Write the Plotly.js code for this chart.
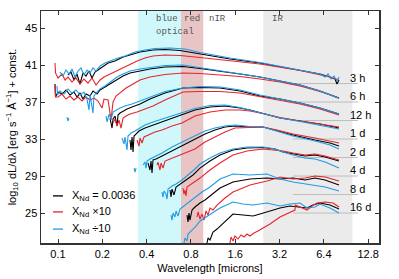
<!DOCTYPE html>
<html><head><meta charset="utf-8">
<script src="https://cdn.plot.ly/plotly-3.0.1.min.js"></script>
<style>html,body{margin:0;padding:0;background:#fff}#chart{width:399px;height:279px}</style>
</head><body><div id="chart"></div>
<script>
const epochs = ['3 h','6 h','12 h','1 d','2 d','4 d','8 d','16 d'];
const offsets = [39,37,35,33,31,29,27,25];
const seriesNames = ['X<sub>Nd</sub> = 0.0036','X<sub>Nd</sub> ×10','X<sub>Nd</sub> ÷10'];
const bandRanges = [[0.35,0.685],[0.685,0.97],[2.48,10]];
const xTicks = [0.1,0.2,0.4,0.8,1.6,3.2,6.4,12.8];
const yTicks = [25,29,33,37,41,45];
const refLineRange = [3.95,10.9];

// ---- 3 h ----
const wl_3h_base = [0.1169,0.1225,0.1284,0.1346,0.141,0.1478,0.1549,0.1624,0.1702,0.1784,0.187,0.2023,0.2188,0.244,0.2766,0.3085,0.3607,0.4421,0.5332,0.6742,0.9219,1.474,2.357,4.406,6.025,7.045,7.62,7.86,8.11];
const lum_3h_base = [39.92,40.24,39.38,40.03,38.95,40.14,39.81,40.35,39.60,40.24,40.46,40.89,41.22,41.43,41.86,42.08,42.41,42.62,42.68,42.57,42.19,41.65,41.22,40.46,40.03,39.70,39.49,38.95,39.38];
const wl_3h_x10 = [0.0954,0.0962,0.100,0.1065,0.1116,0.1169,0.1245,0.1325,0.141,0.1501,0.1599,0.1702,0.1813,0.193,0.2055,0.2188,0.244,0.2766,0.3085,0.3443,0.39,0.4421,0.5332,0.6742,0.9219,1.474,2.357,4.406,7.045,8.11];
const lum_3h_x10 = [41.22,40.14,39.60,40.03,39.38,39.70,39.16,39.60,38.95,39.49,39.05,39.60,38.84,39.38,39.70,39.92,40.24,40.68,41.11,41.43,41.76,41.97,42.08,42.03,41.81,41.43,41.11,40.41,39.70,39.38];
const wl_3h_d10 = [0.1032,0.1082,0.1134,0.1188,0.1245,0.1305,0.1367,0.1433,0.1501,0.1574,0.165,0.1729,0.1813,0.193,0.2086,0.2256,0.2558,0.2853,0.3336,0.39,0.456,0.5766,0.729,0.9219,1.474,2.357,4.406,6.025,6.52,6.83,7.16,7.5,7.86,8.11];
const lum_3h_d10 = [40.24,39.81,40.46,40.03,40.57,39.70,40.35,40.68,39.92,40.46,40.14,40.68,40.35,40.89,41.22,41.43,41.76,41.97,42.41,42.62,42.78,42.84,42.73,42.35,41.76,41.27,40.46,40.03,39.70,40.03,39.49,39.81,39.27,39.70];
// ---- 6 h ----
const wl_6h_base = [0.0954,0.0962,0.100,0.1065,0.1134,0.1206,0.1284,0.1346,0.141,0.1478,0.1549,0.165,0.1729,0.1841,0.193,0.2086,0.2256,0.2518,0.2766,0.3085,0.3607,0.4217,0.5332,0.7065,0.9219,1.26,1.723,2.357,3.222,4.406,6.025,8.11];
const lum_6h_base = [38.95,37.54,38.08,37.86,38.30,37.76,38.08,37.54,37.97,37.32,37.86,37.65,38.19,37.86,38.30,38.62,38.95,39.49,39.81,40.14,40.35,40.57,40.78,40.84,40.62,40.35,40.03,39.70,39.27,38.84,38.19,37.43];
const wl_6h_x10 = [0.0954,0.0962,0.100,0.1065,0.1134,0.1206,0.1284,0.1367,0.1455,0.1549,0.165,0.1756,0.187,0.1991,0.2055,0.2188,0.2292,0.2365,0.2479,0.2638,0.2898,0.3234,0.3607,0.4217,0.5332,0.7065,0.9219,1.26,1.723,2.357,3.222,4.406,6.025,8.11];
const lum_6h_x10 = [38.84,37.54,37.54,37.86,37.32,37.65,37.22,37.54,37.11,37.54,37.22,37.43,37.11,36.35,37.32,37.22,35.05,37.00,37.65,37.97,38.51,38.95,39.38,39.70,39.97,40.14,40.08,39.92,39.76,39.49,39.16,38.73,38.13,37.43];
const wl_6h_d10 = [0.0985,0.0992,0.1032,0.1099,0.1169,0.1245,0.1325,0.141,0.1501,0.1574,0.1624,0.165,0.1729,0.1756,0.1841,0.193,0.2086,0.2256,0.2518,0.2766,0.3085,0.3607,0.4217,0.5332,0.7065,0.9219,1.26,1.723,2.357,3.222,4.406,6.025,8.11];
const lum_6h_d10 = [38.73,37.76,38.19,37.86,38.41,37.97,38.30,37.76,38.08,37.32,36.14,37.76,35.81,37.65,38.08,38.41,38.73,39.16,39.70,40.03,40.35,40.57,40.73,40.95,41.00,40.73,40.41,40.08,39.70,39.27,38.84,38.19,37.38];
// ---- 12 h ----
const wl_12h_base = [0.2256,0.2328,0.2365,0.244,0.2518,0.2558,0.2638,0.2766,0.2944,0.3184,0.3607,0.4217,0.5332,0.7065,0.9219,1.26,1.723,2.357,3.222,4.406,6.025,8.11];
const lum_12h_base = [35.27,34.19,35.16,35.49,34.41,35.59,35.81,36.03,36.24,36.46,36.78,37.32,37.97,38.51,38.57,38.51,38.19,37.65,37.32,36.89,36.35,35.70];
const wl_12h_x10 = [0.2365,0.244,0.2518,0.2598,0.268,0.2766,0.2898,0.3085,0.3443,0.39,0.4421,0.5332,0.7065,0.9219,1.26,1.723,2.357,3.222,4.406,6.025,8.11];
const lum_12h_x10 = [34.73,35.16,34.41,35.05,34.19,35.27,35.49,35.70,35.92,36.24,36.57,37.22,38.08,38.13,38.13,37.97,37.59,37.22,36.78,36.24,35.59];
const wl_12h_d10 = [0.1151,0.1169,0.1188,null,0.212,0.2154,0.2222,0.2292,0.2365,0.2479,0.2638,0.2853,0.3184,0.3607,0.4217,0.5332,0.7065,0.9219,1.26,1.723,2.357,3.222,4.406,6.025,8.11];
const lum_12h_d10 = [35.38,34.95,35.27,null,35.49,34.84,35.70,35.16,35.92,36.14,36.35,36.57,36.78,37.11,37.54,38.13,38.51,38.68,38.62,38.30,37.76,37.32,36.89,36.35,35.70];
// ---- 1 d ----
const wl_1d_base = [0.3085,0.3134,0.3184,0.3234,0.3285,0.3389,0.3552,0.39,0.4421,0.5089,0.595,0.6955,0.8524,1.078,1.363,1.723,2.015,2.55,3.222,4.406,6.025,8.11];
const lum_1d_base = [32.89,31.81,33.22,31.59,33.32,33.54,33.86,34.19,34.51,34.84,35.27,35.59,36.14,36.46,36.57,36.35,36.14,35.70,35.27,34.95,34.62,34.19];
const wl_1d_x10 = [0.3443,0.3552,0.3607,0.3722,0.384,0.4088,0.456,0.5089,0.595,0.6955,0.8524,1.078,1.363,1.723,2.015,2.55,3.222,4.406,6.025,8.11];
const lum_1d_x10 = [32.89,32.24,33.11,32.57,33.22,33.43,33.76,33.97,34.41,34.73,35.49,35.92,36.14,36.14,36.03,35.70,35.32,34.95,34.62,34.30];
const wl_1d_d10 = [0.2722,0.2809,0.2853,0.2944,0.299,0.3134,0.3336,0.3607,0.39,0.4421,0.5089,0.595,0.6955,0.8524,1.078,1.363,1.723,2.015,2.55,3.222,4.406,6.025,8.11];
const lum_1d_d10 = [33.11,32.46,33.22,31.81,33.32,33.65,33.86,34.19,34.51,34.84,35.16,35.49,35.81,36.30,36.62,36.68,36.41,36.14,35.70,35.27,34.89,34.51,34.08];
// ---- 2 d ----
const wl_2d_base = [0.4088,0.4217,0.4284,0.4352,0.4421,0.4632,0.5089,0.5766,0.6955,0.8524,0.9967,1.166,1.363,1.594,2.015,2.47,3.07,3.95,5.57,7.045,8.11];
const lum_2d_base = [30.41,29.65,30.62,29.32,30.73,30.84,31.16,31.59,32.24,33.00,33.54,33.97,34.30,34.41,34.30,34.30,33.86,33.43,32.89,32.57,32.24];
const wl_2d_x10 = [0.4705,0.478,0.4931,0.5009,0.517,0.5332,0.5766,0.6234,0.729,0.8524,0.9967,1.166,1.363,1.594,2.015,2.47,3.07,3.95,5.57,7.045,8.11];
const lum_2d_x10 = [30.19,30.51,29.65,30.41,29.86,30.62,30.84,31.05,31.49,31.92,32.68,33.22,33.76,34.19,34.24,34.30,33.97,33.54,33.11,32.78,32.57];
const wl_2d_d10 = [0.3285,0.3336,0.3389,null,0.378,0.39,0.3962,0.4024,0.4217,0.4632,0.5089,0.595,0.6955,0.8524,0.9967,1.166,1.363,1.594,2.015,2.47,3.07,3.95,5.57,7.045,8.11];
const lum_2d_d10 = [29.86,29.43,29.86,null,30.19,30.51,29.86,30.62,30.84,31.16,31.49,32.14,32.68,33.32,33.86,34.19,34.41,34.51,34.35,34.30,33.86,33.32,32.78,32.35,31.92];
// ---- 4 d ----
const wl_4d_base = [0.5766,0.5857,0.595,0.614,0.6336,0.6742,0.7406,0.8262,0.9219,1.078,1.26,1.545,1.923,2.47,2.98,3.38,3.95,4.77,5.57,6.52,8.11];
const lum_4d_base = [27.49,26.73,27.59,26.95,27.81,28.14,28.57,29.11,29.86,30.62,31.27,31.81,32.03,32.08,31.92,31.59,31.38,31.16,31.27,31.05,30.62];
const wl_4d_x10 = [0.7065,0.7177,0.729,0.7406,0.7523,0.7883,0.8524,0.9219,1.078,1.26,1.545,1.923,2.47,2.98,3.38,3.95,4.77,5.57,6.52,8.11];
const lum_4d_x10 = [27.70,27.05,27.49,26.84,27.81,28.03,28.35,28.78,29.65,30.41,31.27,31.70,31.92,31.81,31.70,31.49,31.27,31.38,31.16,30.73];
const wl_4d_d10 = [0.5089,0.517,0.5252,0.5419,0.5505,0.5592,0.595,0.6336,0.6955,0.7642,0.8524,0.9219,1.078,1.26,1.545,1.923,2.47,2.98,3.38,3.95,4.77,5.57,6.52,8.11];
const lum_4d_d10 = [27.27,26.73,27.38,27.05,26.51,27.59,27.92,28.14,28.57,29.11,29.76,30.30,30.95,31.49,31.92,32.14,32.14,31.92,31.59,31.27,30.95,30.84,30.51,29.86];
// ---- 8 d ----
const wl_8d_base = [0.7523,0.7642,0.7763,0.7883,0.8133,0.8524,0.9219,0.9967,1.078,1.26,1.545,2.015,2.63,3.222,3.95,4.77,5.57,6.52,8.11];
const lum_8d_base = [24.78,24.03,25.00,24.24,25.32,25.65,26.08,26.41,26.84,27.70,28.35,28.68,28.78,28.68,28.78,28.57,28.78,28.57,28.03];
const wl_8d_x10 = [0.8796,0.8935,0.9219,0.9511,0.9813,1.0125,1.0448,1.078,1.13,1.203,1.363,1.545,2.015,2.63,3.222,3.95,4.77,5.57,6.52,8.11];
const lum_8d_x10 = [24.57,25.11,24.35,24.89,24.24,25.22,24.78,25.54,25.32,25.86,26.62,27.27,28.03,28.46,28.89,28.68,28.78,29.00,28.89,28.46];
const wl_8d_d10 = [0.5857,0.595,0.6045,0.6234,0.6336,0.6538,0.6742,0.7177,0.7642,0.8524,0.9511,1.078,1.26,1.545,2.015,2.63,3.222,3.95,4.77,5.57,6.52,8.11];
const lum_8d_d10 = [24.78,24.24,25.00,24.57,25.22,24.68,25.43,25.76,26.08,26.73,27.27,27.81,28.68,29.22,29.11,29.22,28.68,28.35,28.14,28.03,27.81,27.38];
// ---- 16 d ----
const wl_16d_base = [1.0285,1.0448,1.078,1.13,1.203,1.26,1.384,1.545,1.806,2.114,2.357,2.63,3.222,3.768,4.2,4.92,5.39,6.025,7.045,8.11];
const lum_16d_base = [21.76,22.30,22.08,22.95,23.27,23.59,24.24,24.89,24.78,24.68,24.89,25.11,25.54,25.76,25.65,25.54,25.86,26.08,25.86,25.43];
const wl_16d_x10 = [1.474,1.497,1.545,1.594,1.67,1.751,1.835,1.923,2.015,2.145,2.284,2.47,2.755,3.222,3.651,4.07,4.10,4.406,4.92,5.315,5.746,6.52,7.39,8.11];
const lum_16d_x10 = [21.76,22.41,21.97,22.51,22.19,22.62,22.41,22.73,22.51,22.84,23.05,23.38,23.81,24.57,25.00,25.32,25.86,25.65,25.32,25.76,26.08,26.19,26.08,25.65];
const wl_16d_d10 = [0.7177,0.729,0.7523,0.7642,0.8133,0.8659,0.9219,1.078,1.26,1.545,1.806,2.114,2.63,3.222,3.768,4.406,4.92,5.57,6.025,7.045,8.11];
const lum_16d_d10 = [21.76,22.30,21.97,22.73,23.16,23.59,24.14,24.89,25.54,26.19,25.97,25.86,26.08,25.76,25.97,26.08,25.54,25.65,25.97,25.54,25.00];

const spectra = {
  base: [[wl_3h_base,lum_3h_base],[wl_6h_base,lum_6h_base],[wl_12h_base,lum_12h_base],[wl_1d_base,lum_1d_base],[wl_2d_base,lum_2d_base],[wl_4d_base,lum_4d_base],[wl_8d_base,lum_8d_base],[wl_16d_base,lum_16d_base]],
  x10: [[wl_3h_x10,lum_3h_x10],[wl_6h_x10,lum_6h_x10],[wl_12h_x10,lum_12h_x10],[wl_1d_x10,lum_1d_x10],[wl_2d_x10,lum_2d_x10],[wl_4d_x10,lum_4d_x10],[wl_8d_x10,lum_8d_x10],[wl_16d_x10,lum_16d_x10]],
  d10: [[wl_3h_d10,lum_3h_d10],[wl_6h_d10,lum_6h_d10],[wl_12h_d10,lum_12h_d10],[wl_1d_d10,lum_1d_d10],[wl_2d_d10,lum_2d_d10],[wl_4d_d10,lum_4d_d10],[wl_8d_d10,lum_8d_d10],[wl_16d_d10,lum_16d_d10]]
};

const colors = {base:'#000000', x10:'#e8232d', d10:'#1e9be6'};
const FONT = 'Liberation Sans, Arial, Helvetica, sans-serif';
const MONO = 'Liberation Mono, Courier New, monospace';

const traces = [];
// reference baselines
offsets.forEach(o => traces.push({x: refLineRange, y: [o,o], mode:'lines', line:{color:'#bdbdbd', width:1}, hoverinfo:'skip', showlegend:false}));
['base','x10','d10'].forEach(k => {
  spectra[k].forEach(([wl, lum]) => traces.push({x: wl, y: lum, mode:'lines', line:{color: colors[k], width:1.1}, connectgaps:false, showlegend:false}));
});

const bandColors = ['rgb(208,248,251)','rgb(233,196,196)','rgb(235,235,235)'];
const shapes = bandRanges.map((r,i) => ({type:'rect', xref:'x', yref:'paper', x0: r[0], x1: r[1], y0:0, y1:1, fillcolor: bandColors[i], line:{width:0}, layer:'below'}));

// manual legend
const legColors = [colors.base, colors.x10, colors.d10];
const legY = [0.203, 0.134, 0.060];
legColors.forEach((c,i) => shapes.push({type:'line', xref:'paper', yref:'paper', x0:0.0355, x1:0.065, y0:legY[i], y1:legY[i], line:{color:c, width:1.3}}));

const annotations = [];
seriesNames.forEach((n,i) => annotations.push({xref:'paper', yref:'paper', x:0.087, y:legY[i], xanchor:'left', yanchor:'middle', text:n, showarrow:false, font:{family:FONT, size:11, color:'#000'}}));
epochs.forEach((e,i) => annotations.push({xref:'x', yref:'y', x: Math.log10(9.33), y: offsets[i]+0.65, xanchor:'left', yanchor:'middle', text:e, showarrow:false, font:{family:FONT, size:11, color:'#000'}}));
const regionLabels = [['blue',0.449,45.94],['red',0.695,45.94],['optical',0.449,44.6],['nIR',1.028,45.94],['IR',2.755,45.94]];
regionLabels.forEach(([t,x,y]) => annotations.push({xref:'x', yref:'y', x: Math.log10(x), y: y, xanchor:'left', yanchor:'middle', text:t, showarrow:false, font:{family:MONO, size:9, color:'#555'}}));

const layout = {
  width:399, height:279,
  margin:{l:41, r:20, t:11, b:36},
  paper_bgcolor:'#fff', plot_bgcolor:'#fff',
  showlegend:false,
  xaxis:{type:'log', range:[-1.1155, 1.1807], tickvals:xTicks, ticktext:xTicks.map(String), ticks:'inside', ticklen:4, tickcolor:'#333', showgrid:false, zeroline:false, showline:true, linecolor:'#333', linewidth:1.5, mirror:'ticks', tickfont:{family:FONT, size:11, color:'#000'}, title:{text:'Wavelength [microns]', font:{family:FONT, size:11, color:'#000'}, standoff:5}},
  yaxis:{range:[21.76, 46.84], tickvals:yTicks, ticks:'inside', ticklen:4, tickcolor:'#333', showgrid:false, zeroline:false, showline:true, linecolor:'#333', linewidth:1.5, mirror:'ticks', tickfont:{family:FONT, size:11, color:'#000'}, title:{text:'log<sub>10</sub> dL/dλ [erg s<sup>−1</sup> Å<sup>−1</sup>] + const.', font:{family:FONT, size:11, color:'#000'}, standoff:6}},
  shapes: shapes,
  annotations: annotations
};
Plotly.newPlot('chart', traces, layout, {staticPlot:true, displayModeBar:false});
</script></body></html>
